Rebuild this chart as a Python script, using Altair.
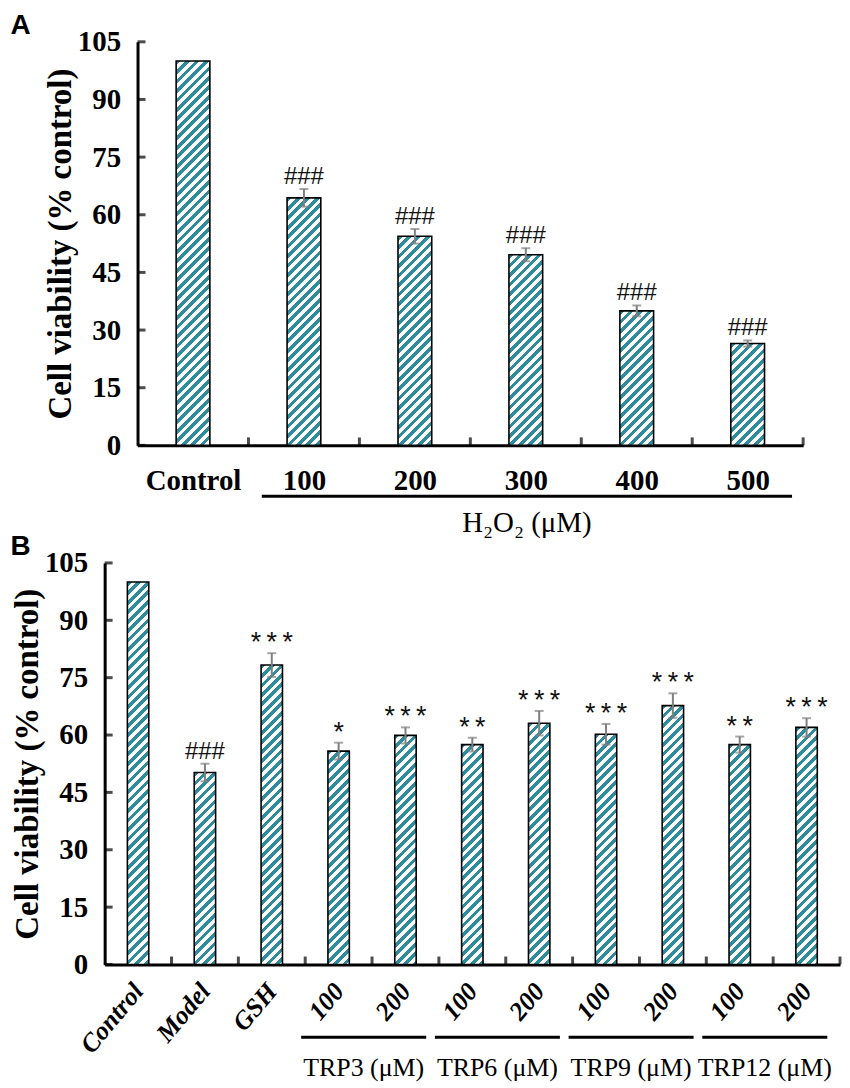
import json
import altair as alt
import pandas as pd

# ---------------- data ----------------
a_labels = ["Control", "100", "200", "300", "400", "500"]
a_values = [100.0, 64.4, 54.4, 49.6, 35.0, 26.5]
a_errors = [0.0, 2.3, 1.9, 1.7, 1.4, 0.8]
a_marks = ["", "###", "###", "###", "###", "###"]
a_group_labels = ["H\u2082O\u2082 (\u03bcM)"]
a_group_first = [1]
a_group_last = [5]

b_labels = ["Control", "Model", "GSH", "100", "200", "100", "200", "100", "200", "100", "200"]
b_values = [100.0, 50.2, 78.3, 55.8, 59.9, 57.5, 63.1, 60.2, 67.7, 57.5, 62.0]
b_errors = [0.0, 2.3, 3.1, 2.2, 2.1, 1.8, 3.2, 2.7, 3.2, 2.1, 2.4]
b_marks = ["", "###", "***", "*", "***", "**", "***", "***", "***", "**", "***"]
b_group_labels = ["TRP3 (\u03bcM)", "TRP6 (\u03bcM)", "TRP9 (\u03bcM)", "TRP12 (\u03bcM)"]
b_group_first = [3, 5, 7, 9]
b_group_last = [4, 6, 8, 10]

y_ticks = [0, 15, 30, 45, 60, 75, 90, 105]
Y_MAX = 105

# ---------------- style ----------------
TEAL = "#2f8c9c"
GRAY = "#7f7f7f"
SERIF = "Liberation Serif"
SANS = "Liberation Sans"
STRIPE = 9.5      # stripe period (px, along x+y)
TEAL_FRAC = 0.5


def hatch(w, h):
    """Linear gradient (bbox units) that draws '/' stripes at 45 degrees."""
    d = w * w + h * h
    x2 = w * (w + h) / d
    y2 = h * (w + h) / d
    p = STRIPE / (w + h)
    stops = []
    i = 0
    while i * p < 1:
        t0 = i * p
        t1 = min(1, t0 + TEAL_FRAC * p)
        t2 = min(1, t0 + p)
        stops += [
            {"offset": round(t0, 5), "color": TEAL},
            {"offset": round(t1, 5), "color": TEAL},
            {"offset": round(t1, 5), "color": "white"},
            {"offset": round(t2, 5), "color": "white"},
        ]
        i += 1
    return {"gradient": "linear", "x1": 0, "y1": 0, "x2": x2, "y2": y2, "stops": stops}


def stars(s):
    return "\u2009".join(s) if s.startswith("*") else s


def panel(labels, values, errors, marks, g_labels, g_first, g_last,
          W, H, xoff, half, letter, rotated):
    n = len(labels)
    df = pd.DataFrame({
        "idx": list(range(n)), "label": labels, "v": values, "e": errors,
        "m": [stars(s) for s in marks],
        "star": [s.startswith("*") for s in marks],
    })
    df["xl"] = df["idx"] + 0.5 - half
    df["xr"] = df["idx"] + 0.5 + half
    df["xc"] = df["idx"] + 0.5
    df["hi"] = df["v"] + df["e"]
    df["lo"] = df["v"] - df["e"]
    df["zero"] = 0.0

    xscale = alt.Scale(domain=[0, n], range=[xoff, xoff + W], nice=False, zero=False)
    yscale = alt.Scale(domain=[0, Y_MAX], nice=False)

    xa = dict(
        values=[i + 0.5 for i in range(n)],
        labelExpr=json.dumps(labels) + "[floor(datum.value)]",
        ticks=False, tickSize=0, grid=False,
        domainColor="black", domainWidth=3,
        labelFont=SERIF, labelFontWeight="bold", labelColor="black",
        labelOverlap=False, labelFlush=False, title=None,
    )
    if rotated:
        xa.update(labelAngle=-50, labelAlign="right", labelBaseline="middle",
                  labelFontStyle="italic", labelFontSize=26, labelPadding=22)
    else:
        xa.update(labelFontSize=29, labelPadding=21)
    x_axis = alt.Axis(**xa)
    y_axis = alt.Axis(
        values=y_ticks, ticks=False, tickSize=0, grid=False,
        domainColor="black", domainWidth=3,
        labelFont=SERIF, labelFontWeight="bold", labelFontSize=29, labelColor="black",
        labelPadding=17, labelFlush=False,
        title="Cell viability (% control)", titleFont=SERIF, titleFontSize=33,
        titleFontWeight="bold", titleColor="black", titlePadding=0,
        offset=-xoff,
    )

    def X(f):
        return alt.X(f, type="quantitative", scale=xscale, axis=x_axis)

    def Y(f):
        return alt.Y(f, type="quantitative", scale=yscale, axis=y_axis)

    base = alt.Chart(df)
    layers = []

    # inward ticks on y axis
    ydf = pd.DataFrame({"t": y_ticks, "x0": [0.0] * len(y_ticks)})
    layers.append(alt.Chart(ydf).mark_tick(orient="horizontal", size=8, thickness=3,
                                           color="black", xOffset=4)
                  .encode(x=X("x0"), y=Y("t")))
    # inward ticks on x axis (category boundaries)
    xdf = pd.DataFrame({"b": [float(i) for i in range(1, n + 1)], "y0": [0.0] * n})
    layers.append(alt.Chart(xdf).mark_tick(orient="vertical", size=8, thickness=3,
                                           color="black", yOffset=-4)
                  .encode(x=X("b"), y=Y("y0")))

    # hatched bars, one layer per bar
    band = W / n
    for k in range(n):
        w = 2 * half * band
        h = values[k] / Y_MAX * H
        layers.append(
            base.transform_filter(alt.datum.idx == k)
            .mark_rect(fill=hatch(w, h), stroke="black", strokeWidth=1.6)
            .encode(x=X("xl"), x2="xr", y=Y("v"), y2="zero")
        )

    err = base.transform_filter(alt.datum.e > 0)
    layers.append(err.mark_rule(color=GRAY, strokeWidth=2)
                  .encode(x=X("xc"), y=Y("lo"), y2="hi"))
    layers.append(err.mark_tick(orient="horizontal", size=9, thickness=2, color=GRAY)
                  .encode(x=X("xc"), y=Y("hi")))
    layers.append(err.mark_tick(orient="horizontal", size=9, thickness=2, color=GRAY)
                  .encode(x=X("xc"), y=Y("lo")))
    layers.append(err.transform_filter(alt.datum.star == False)
                  .mark_text(font=SANS, fontSize=24, baseline="alphabetic", dy=-5,
                             color="#111111")
                  .encode(x=X("xc"), y=Y("hi"), text="m:N"))
    layers.append(err.transform_filter(alt.datum.star == True)
                  .mark_text(font=SANS, fontSize=27, baseline="alphabetic", dy=-2,
                             color="#111111")
                  .encode(x=X("xc"), y=Y("hi"), text="m:N"))

    # group brackets
    gdf = pd.DataFrame({"g": g_labels, "first": g_first, "last": g_last})
    if rotated:
        gdf["xs"] = gdf["first"] - 0.06
        gdf["xe"] = gdf["last"] + 1 - 0.19
        line_y, text_y, gfont = H + 73, H + 104, 26
    else:
        gdf["xs"] = gdf["first"] + 0.12
        gdf["xe"] = gdf["last"] + 1 - 0.1
        line_y, text_y, gfont = H + 51, H + 78, 29
    gdf["xm"] = (gdf["xs"] + gdf["xe"]) / 2
    gch = alt.Chart(gdf)
    layers.append(gch.mark_rule(color="black", strokeWidth=3)
                  .encode(x=X("xs"), x2="xe", y=alt.value(line_y)))
    layers.append(gch.mark_text(font=SERIF, fontSize=gfont, color="black")
                  .encode(x=X("xm"), y=alt.value(text_y), text="g:N"))

    return alt.layer(*layers).properties(
        width=xoff + W, height=H,
        title=alt.TitleParams(letter, anchor="start", frame="bounds", font=SANS,
                              fontSize=28, fontWeight="bold", color="black",
                              offset=-12, dx=-xoff - 1),
    )


pa = panel(a_labels, a_values, a_errors, a_marks, a_group_labels, a_group_first,
           a_group_last, W=668, H=405, xoff=33, half=0.152, letter="A", rotated=False)
pb = panel(b_labels, b_values, b_errors, b_marks, b_group_labels, b_group_first,
           b_group_last, W=738, H=403, xoff=0, half=0.16, letter="B", rotated=True)

chart = (
    alt.vconcat(pa, pb, spacing=-5)
    .properties(padding={"left": 2, "top": 2, "right": 0, "bottom": 0}, background="white")
    .configure_view(stroke=None)
)

chart.save("out.html", embed_options={"renderer": "svg", "actions": False})
